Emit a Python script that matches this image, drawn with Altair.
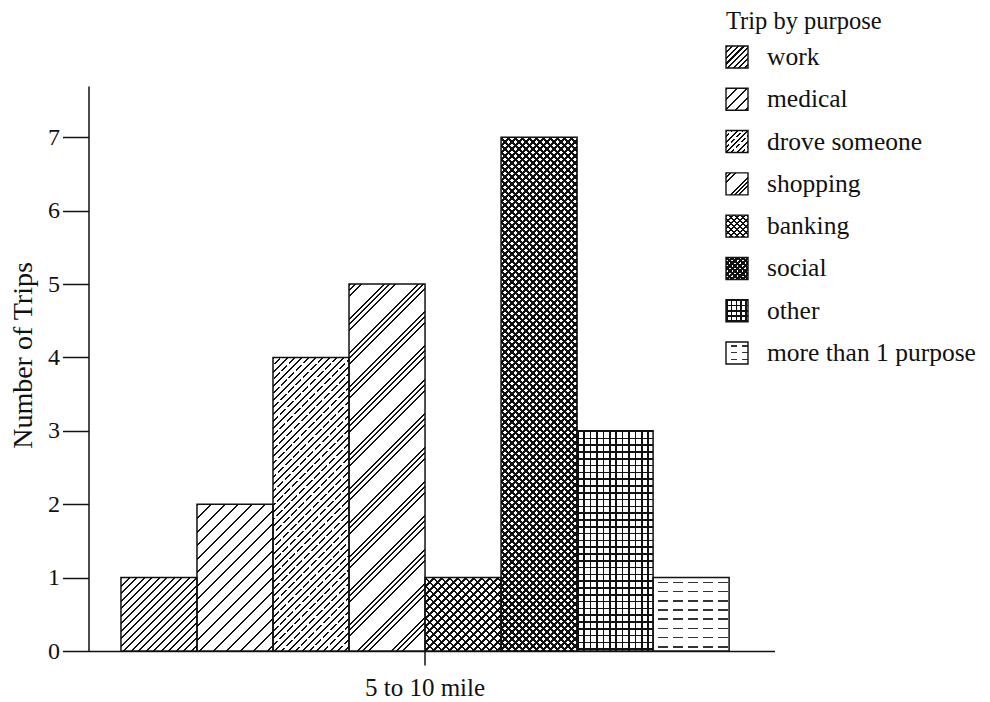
import altair as alt
import pandas as pd

# ---------------- data ----------------
distance = ["5 to 10 mile"] * 8
purposes = ["work", "medical", "drove someone", "shopping",
            "banking", "social", "other", "more than 1 purpose"]
trips = [1, 2, 4, 5, 1, 7, 3, 1]
y_ticks = [0, 1, 2, 3, 4, 5, 6, 7]
legend_title = "Trip by purpose"
y_title = "Number of Trips"

df = pd.DataFrame({"distance": distance, "purpose": purposes, "trips": trips})

# ---------------- style ----------------
FONT = "Liberation Serif"
INK = "#111111"
WHITE = "#ffffff"
CLEAR = "rgba(255,255,255,0)"
W, H = 686, 565
Y_MAX = 7.7
PAD_OUT = 0.064
BAR_W = W / (1 + 2 * PAD_OUT) / len(purposes)
SWATCH = 22

# hatch definitions: (direction, period px, line width px, colour, offsets in period)
PATTERNS = {
    "work": [("up", 7.5, 2.2, INK, (0,))],
    "medical": [("up", 13.5, 2.2, INK, (0,))],
    "drove someone": [("up", 14, 1.8, INK, (7,)),
                      ("down", 15, 3.5, WHITE, (0,)),
                      ("up", 14, 2.2, INK, (0,))],
    "shopping": [("up", 34, 2.0, INK, (0, 5.5, 11))],
    "banking": [("up", 8, 2.8, INK, (0,)), ("down", 8, 2.0, INK, (0,))],
    "social": [("up", 7, 3.1, INK, (0,)), ("down", 7, 3.1, INK, (0,))],
    "other": [("v", 6.4, 1.6, INK, (0,)), ("h", 6.8, 1.6, INK, (0,))],
    "more than 1 purpose": [("h", 9.2, 1.5, "#333333", (4,)),
                            ("v", 15, 5, WHITE, (0,))],
}


def gradient(kind, w, h, period, lw, color, offsets, bg):
    if kind == "up":
        ext = w + h
        d = w * w + h * h
        x1, y1, x2, y2 = 0, 0, ext * w / d, ext * h / d
    elif kind == "down":
        ext = w + h
        d = w * w + h * h
        x1, y1, x2, y2 = 0, 1, ext * w / d, 1 - ext * h / d
    elif kind == "h":
        ext = h
        x1, y1, x2, y2 = 0, 0, 0, 1
    else:
        ext = w
        x1, y1, x2, y2 = 0, 0, 1, 0
    spans = []
    base = -period
    while base < ext:
        for o in offsets:
            s, e = base + o, base + o + lw
            if e > 0 and s < ext:
                spans.append((max(s, 0.0), min(e, ext)))
        base += period
    spans.sort()
    stops = [alt.GradientStop(offset=0, color=bg)]
    last = 0.0
    for s, e in spans:
        a = max(round(s / ext, 5), last)
        b = max(round(e / ext, 5), a)
        stops += [alt.GradientStop(offset=a, color=bg),
                  alt.GradientStop(offset=a, color=color),
                  alt.GradientStop(offset=b, color=color),
                  alt.GradientStop(offset=b, color=bg)]
        last = b
    stops.append(alt.GradientStop(offset=1, color=bg))
    return alt.LinearGradient(gradient="linear", stops=stops,
                              x1=round(x1, 6), y1=round(y1, 6),
                              x2=round(x2, 6), y2=round(y2, 6))


# ---------------- main bars ----------------
base = alt.Chart(df).encode(
    x=alt.X("distance:N", title=None,
            scale=alt.Scale(paddingInner=0, paddingOuter=PAD_OUT, align=0.417),
            axis=alt.Axis(labelAngle=0, tickSize=14, labelPadding=10,
                          labelFont=FONT, labelFontSize=25, labelColor=INK,
                          domainColor=INK, tickColor=INK,
                          domainWidth=1.5, tickWidth=1.5, grid=False)),
    xOffset=alt.XOffset("purpose:N",
                        scale=alt.Scale(domain=purposes, paddingInner=0, paddingOuter=0)),
    y=alt.Y("trips:Q", title=y_title,
            scale=alt.Scale(domain=[0, Y_MAX], nice=False, zero=True),
            axis=alt.Axis(values=y_ticks, format="d", tickSize=26, labelPadding=3,
                          labelFont=FONT, labelFontSize=24, labelColor=INK,
                          titleFont=FONT, titleFontSize=28, titleFontWeight="normal",
                          titleColor=INK, titlePadding=10, titleY=269,
                          domainColor=INK, tickColor=INK,
                          domainWidth=1.5, tickWidth=1.5, grid=False)),
)

bar_layers = []
for p, v in zip(purposes, trips):
    hpx = v * H / Y_MAX
    for i, (kind, per, lw, col, offs) in enumerate(PATTERNS[p]):
        g = gradient(kind, BAR_W, hpx, per, lw, col, offs, WHITE if i == 0 else CLEAR)
        bar_layers.append(
            base.transform_filter(alt.datum.purpose == p).mark_bar(fill=g, strokeWidth=0)
        )
outline = base.mark_bar(filled=False, stroke=INK, strokeWidth=1.5)
main = alt.layer(*bar_layers, outline)

# ---------------- legend ----------------
leg = alt.Chart(df).encode(
    y=alt.Y("purpose:N",
            scale=alt.Scale(type="point", domain=purposes, range=[-29, 267], padding=0),
            axis=None)
)
leg_layers = []
for p in purposes:
    for i, (kind, per, lw, col, offs) in enumerate(PATTERNS[p]):
        g = gradient(kind, SWATCH, SWATCH, per * 0.75, lw,
                     col, tuple(o * 0.75 for o in offs), WHITE if i == 0 else CLEAR)
        leg_layers.append(
            leg.transform_filter(alt.datum.purpose == p)
            .mark_square(size=SWATCH * SWATCH, fill=g, opacity=1, strokeWidth=0)
            .encode(x=alt.value(648.5))
        )
leg_layers.append(
    leg.mark_square(size=SWATCH * SWATCH, filled=False, stroke=INK,
                    strokeWidth=1.4, opacity=1).encode(x=alt.value(648.5))
)
leg_layers.append(
    leg.mark_text(align="left", baseline="middle", font=FONT, fontSize=25.5, color=INK)
    .encode(x=alt.value(678.5), text="purpose:N")
)
legend = alt.layer(*leg_layers)

title_layer = alt.Chart(pd.DataFrame({"t": [legend_title]})).mark_text(
    align="left", baseline="top", font=FONT, fontSize=24.5, color=INK
).encode(x=alt.value(637.5), y=alt.value(-76), text="t:N")

chart = alt.layer(main, legend, title_layer).resolve_scale(y="independent").properties(
    width=W, height=H,
    padding={"left": 1.5, "top": 1, "right": 0, "bottom": 0},
    background="white",
).configure_view(stroke=None)

chart.save("out.html", embed_options={"renderer": "svg", "actions": False})
